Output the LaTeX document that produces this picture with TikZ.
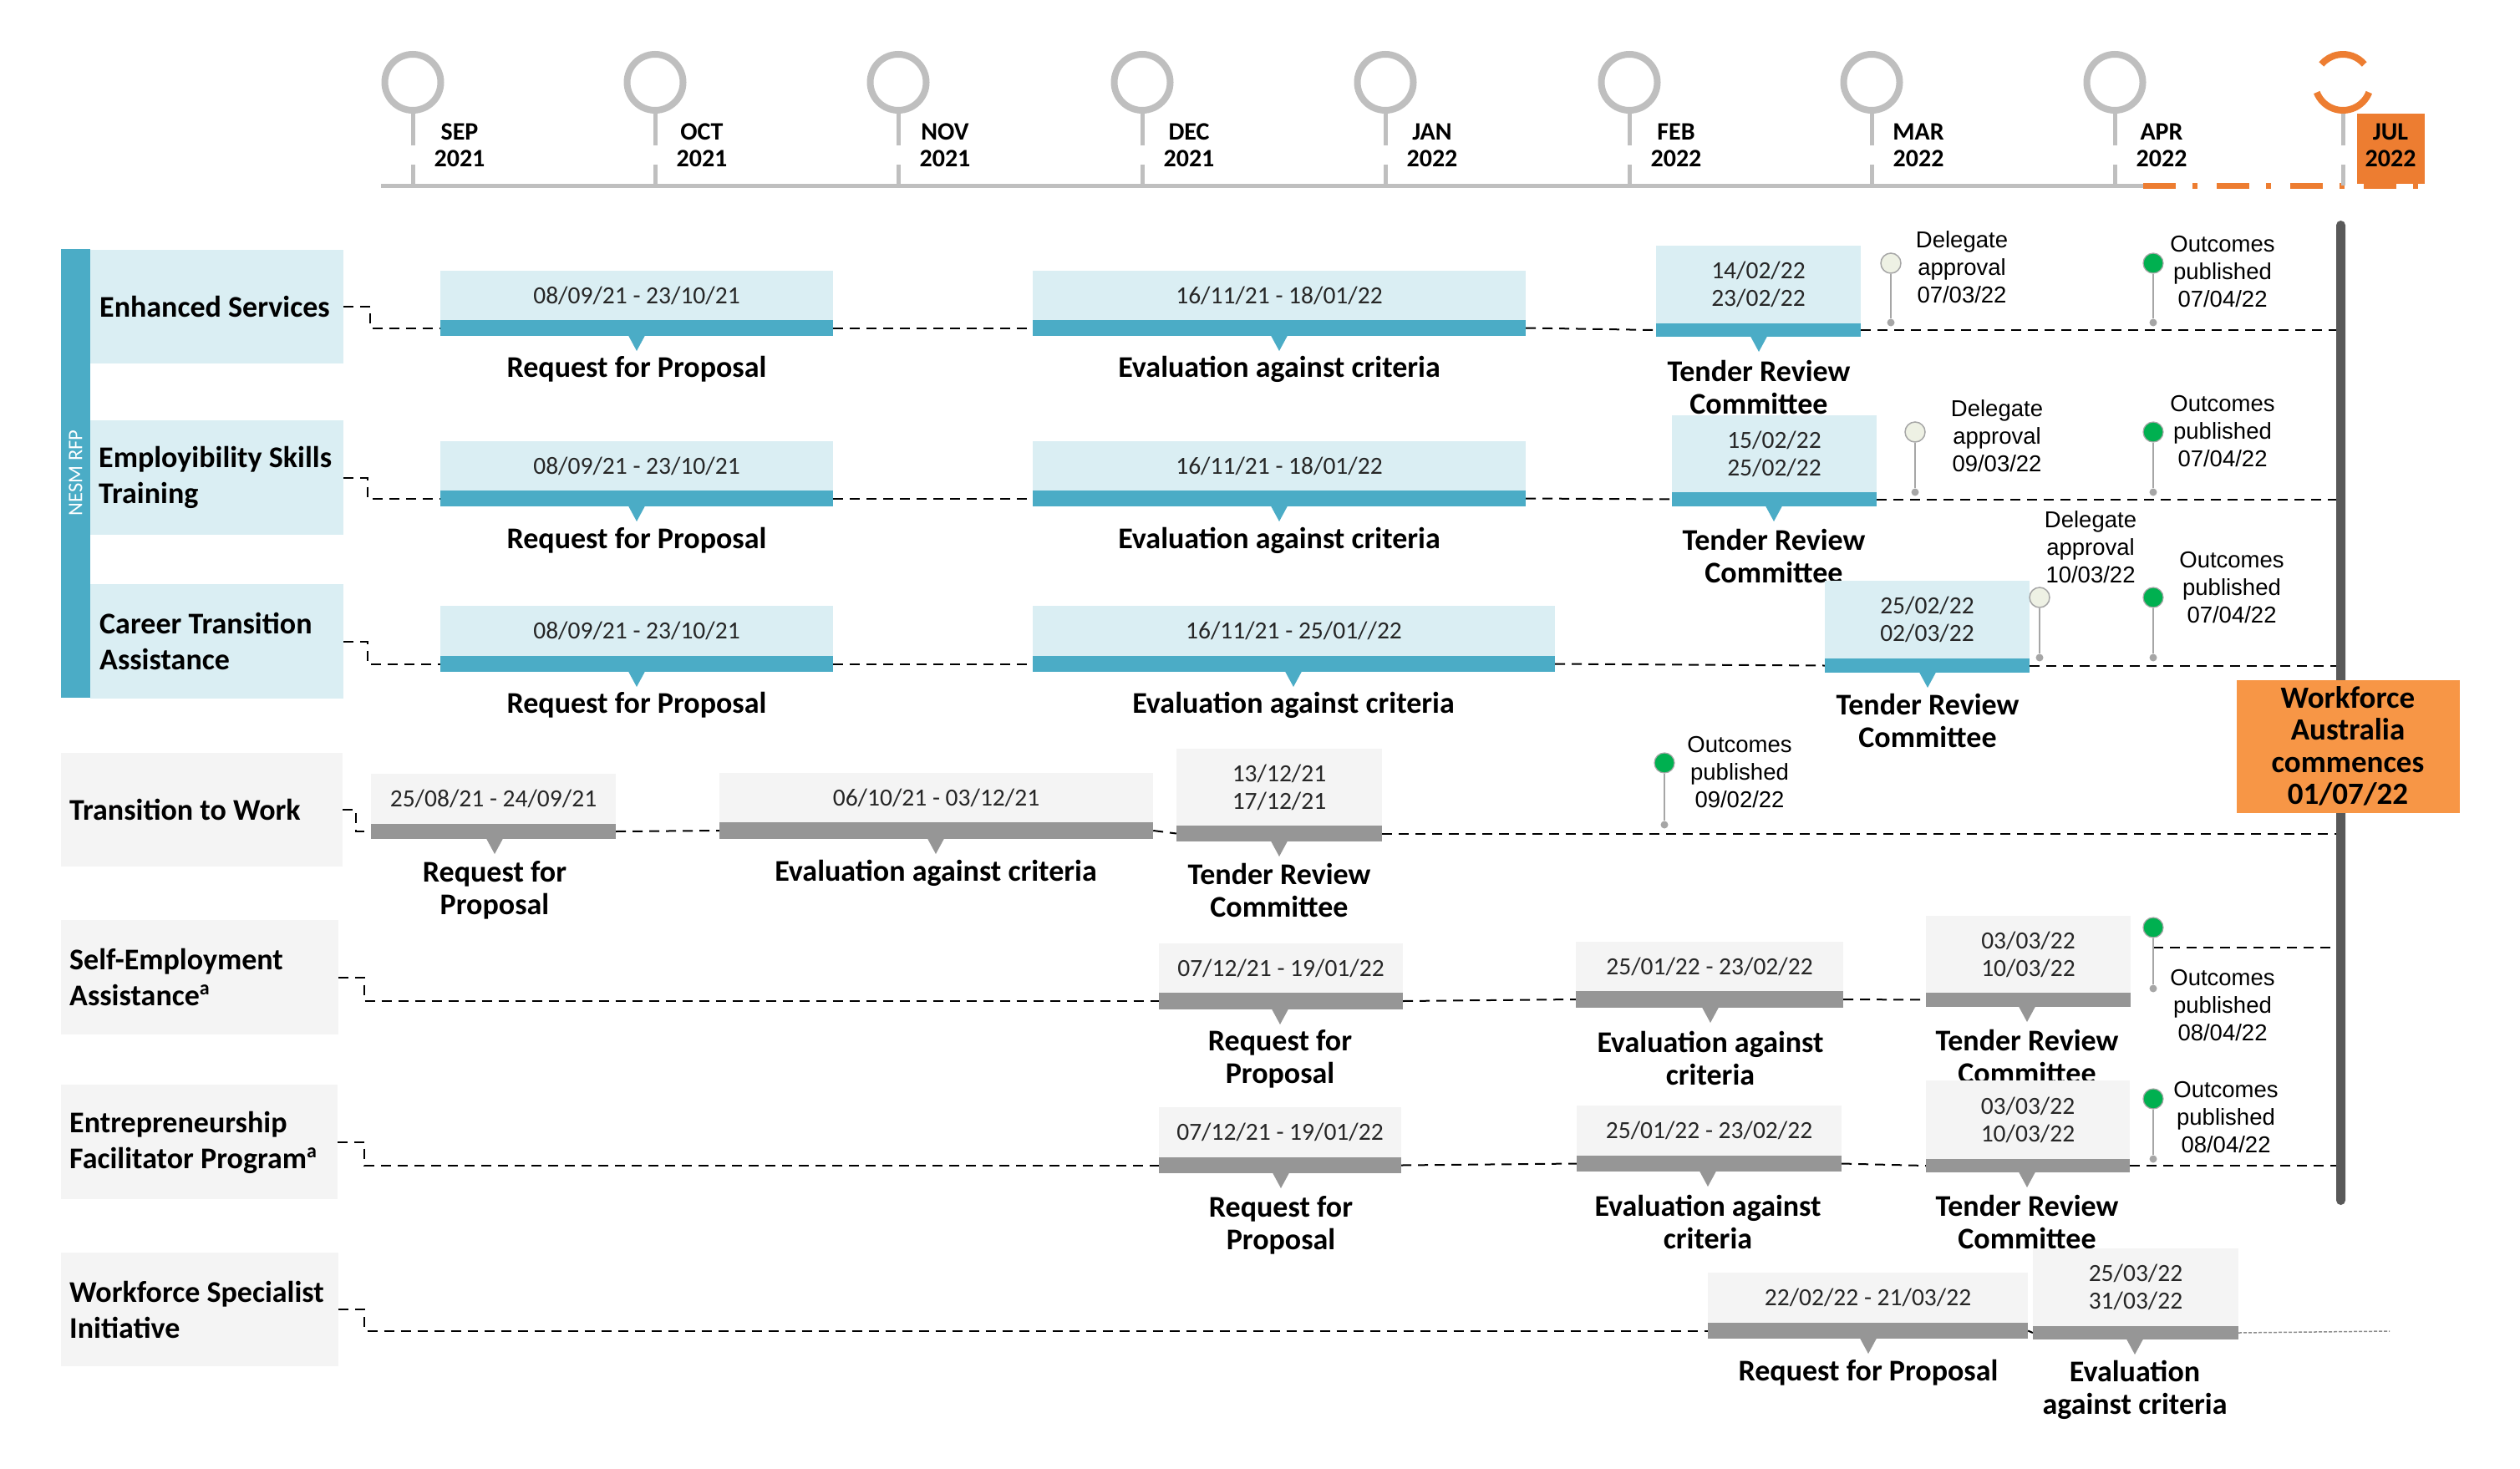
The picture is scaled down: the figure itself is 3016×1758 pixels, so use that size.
\documentclass[tikz,border=0pt]{standalone}
\usepackage{fontspec}
\setmainfont{Carlito}
\newfontfamily\arialf{Liberation Sans}
\usetikzlibrary{fit}
\definecolor{tealD}{HTML}{4BACC6}
\definecolor{tealL}{HTML}{DAEEF3}
\definecolor{grayD}{HTML}{969696}
\definecolor{grayL}{HTML}{F4F4F4}
\definecolor{tlgray}{HTML}{BFBFBF}
\definecolor{orangeD}{HTML}{ED7D31}
\definecolor{orangeL}{HTML}{F79646}
\definecolor{greenP}{HTML}{00B050}
\definecolor{cDeleg}{HTML}{EEF1E4}
\definecolor{stemc}{HTML}{A6A6A6}
\definecolor{vbarc}{HTML}{595959}
\definecolor{datec}{HTML}{262626}
\newcommand{\datefont}{\fontsize{29.5}{33}\selectfont}
\newcommand{\lblfont}{\fontsize{36}{39}\selectfont\bfseries}
\newcommand{\supa}{\raisebox{13pt}{\fontsize{24}{24}\selectfont a}}
% #1 name, #2 scheme, #3 x1, #4 x2, #5 ytop, #6 ymid, #7 ybot, #8 dates, #9 pointer x
\newcommand{\tbar}[9]{%
  \node[fit={(#3,#5) (#4,#6)}, inner sep=0pt, fill=#2L] (#1-d) {};
  \node[datetxt] (#1-t) at (#1-d.center) {#8};
  \node[fit={(#3,#6) (#4,#7)}, inner sep=0pt, fill=#2D] (#1) {};
  \fill[#2D] (#9-10,#7-0.5) -- (#9+10,#7-0.5) -- (#9,#7+18) -- cycle;
}
\newcommand{\tlbl}[4]{\node[tasklbl] (#1) at (#2,#3) {#4};}
\tikzset{
  datetxt/.style={font=\datefont, align=center, inner sep=0pt, text=datec},
  tasklbl/.style={font=\lblfont, align=center, inner sep=0pt, text=black},
  rowtxt/.style={font=\fontsize{36}{43}\selectfont\bfseries, align=left, anchor=west, inner sep=0pt, text=black},
  dashline/.style={draw=black, line width=2pt, dash pattern=on 12pt off 8pt},
  dotline/.style={draw=black!45, line width=1.5pt, dash pattern=on 4pt off 2pt},
  pinG/.style={circle, minimum size=24pt, inner sep=0pt, fill=greenP, draw=stemc, line width=1.2pt},
  pinW/.style={circle, minimum size=24pt, inner sep=0pt, fill=cDeleg, draw=stemc, line width=1.5pt},
  pindot/.style={circle, minimum size=9pt, inner sep=0pt, fill=stemc},
  stemline/.style={draw=stemc, line width=2.5pt},
  pintxt/.style={font=\arialf\fontsize{27.5}{33}\selectfont, align=center, inner sep=0pt, text=black},
  mcirc/.style={circle, draw=tlgray, line width=8pt, minimum size=67pt, inner sep=0pt},
  mstem/.style={draw=tlgray, line width=5pt},
  mlbl/.style={font=\fontsize{30}{32}\selectfont\bfseries, align=center, inner sep=0pt, text=black},
}
\begin{document}
\begin{tikzpicture}[x=1pt, y=-1pt]
\useasboundingbox (0,0) rectangle (3016,1758);
\fill[white] (0,0) rectangle (3016,1758);

% ---------- timeline header ----------
\coordinate (axL) at (456,222);
\coordinate (axM) at (2565,222);
\coordinate (axR) at (2897,222);
\draw[tlgray, line width=5pt] (axL) -- (axM);
\draw[orangeD, line width=7pt, dash pattern=on 39pt off 20pt on 6pt off 23pt] (axM) -- (axR);
\foreach \i/\x/\m/\yr in {1/494/SEP/2021, 2/784/OCT/2021, 3/1075/NOV/2021, 4/1367/DEC/2021, 5/1658/JAN/2022, 6/1950/FEB/2022, 7/2240/MAR/2022, 8/2531/APR/2022}{
  \node[mcirc] (m\i) at (\x,98.5) {};
  \coordinate (t\i) at (\x,222);
  \draw[mstem] (m\i.south) -- ++(0,38);
  \draw[mstem] (t\i) -- ++(0,-25);
  \node[mlbl] (ml\i) at (\x+56,174) {\m\\\yr};
}
\coordinate (jc) at (2804,98.5);
\coordinate (jtop) at (2804,136);
\coordinate (t9) at (2804,222);
\draw[mstem] (jtop) -- ++(0,38);
\draw[mstem] (t9) -- ++(0,-25);
\draw[orangeD, line width=8pt] (jc) ++(40:33.5pt) arc[start angle=40, end angle=140, radius=33.5pt];
\draw[orangeD, line width=8pt] (jc) ++(-21:33.5pt) arc[start angle=-21, end angle=-159, radius=33.5pt];
\node[fit={(2821,136) (2902,220)}, inner sep=0pt, fill=orangeD] (julB) {};
\node[mlbl] (ml9) at (2861,174) {JUL\\2022};

% ---------- vertical bar ----------
\node[fit={(2796,264) (2807,1442)}, inner sep=0pt, fill=vbarc, rounded corners=5.5pt] (vbar) {};

% ---------- row labels ----------
\node[fit={(73,298) (108,835)}, inner sep=0pt, fill=tealD] (nesm) {};
\node[rotate=90, text=white, font=\fontsize{24.5}{26}\selectfont, inner sep=0pt] (nesmT) at (90.5,566) {NESM RFP};
\node[fit={(108,299) (411,435)}, inner sep=0pt, fill=tealL] (esL) {};
\node[rowtxt] (esT) at (119,367) {Enhanced Services};
\node[fit={(108,503) (411,640)}, inner sep=0pt, fill=tealL] (etL) {};
\node[rowtxt] (etT) at (118,571) {Employibility Skills\\Training};
\node[fit={(108,699) (411,836)}, inner sep=0pt, fill=tealL] (ctL) {};
\node[rowtxt] (ctT) at (119,767) {Career Transition\\Assistance};
\node[fit={(73,901) (410,1037)}, inner sep=0pt, fill=grayL] (twL) {};
\node[rowtxt] (twT) at (83,969) {Transition to Work};
\node[fit={(73,1101) (405,1238)}, inner sep=0pt, fill=grayL] (seL) {};
\node[rowtxt] (seT) at (83,1169) {Self-Employment\\Assistance\supa};
\node[fit={(73,1298) (404,1435)}, inner sep=0pt, fill=grayL] (efL) {};
\node[rowtxt] (efT) at (83,1367) {Entrepreneurship\\Facilitator Program\supa};
\node[fit={(73,1499) (405,1635)}, inner sep=0pt, fill=grayL] (wsL) {};
\node[rowtxt] (wsT) at (83,1567) {Workforce Specialist\\Initiative};

% ---------- task bars ----------
\tbar{es1}{teal}{527}{997}{324}{383}{402}{08/09/21 - 23/10/21}{762}
\tlbl{es1l}{762}{442}{Request for Proposal}
\tbar{es2}{teal}{1236}{1826}{324}{383}{402}{16/11/21 - 18/01/22}{1531}
\tlbl{es2l}{1531}{442}{Evaluation against criteria}
\tbar{es3}{teal}{1982}{2227}{294}{387}{403}{14/02/22\\23/02/22}{2105}
\tlbl{es3l}{2105}{463}{Tender Review\\Committee}

\tbar{et1}{teal}{527}{997}{528}{587}{606}{08/09/21 - 23/10/21}{762}
\tlbl{et1l}{762}{647}{Request for Proposal}
\tbar{et2}{teal}{1236}{1826}{528}{587}{606}{16/11/21 - 18/01/22}{1531}
\tlbl{et2l}{1531}{647}{Evaluation against criteria}
\tbar{et3}{teal}{2001}{2246}{497}{589}{606}{15/02/22\\25/02/22}{2123}
\tlbl{et3l}{2123}{665}{Tender Review\\Committee}

\tbar{ct1}{teal}{527}{997}{725}{785}{804}{08/09/21 - 23/10/21}{762}
\tlbl{ct1l}{762}{844}{Request for Proposal}
\tbar{ct2}{teal}{1236}{1861}{725}{785}{804}{16/11/21 - 25/01//22}{1548}
\tlbl{ct2l}{1548}{844}{Evaluation against criteria}
\tbar{ct3}{teal}{2184}{2429}{695}{788}{805}{25/02/22\\02/03/22}{2307}
\tlbl{ct3l}{2307}{862}{Tender Review\\Committee}

\tbar{tw1}{gray}{444}{737}{926}{986}{1004}{25/08/21 - 24/09/21}{592}
\tlbl{tw1l}{592}{1065}{Request for\\Proposal}
\tbar{tw2}{gray}{861}{1380}{925}{984}{1004}{06/10/21 - 03/12/21}{1120}
\tlbl{tw2l}{1120}{1045}{Evaluation against criteria}
\tbar{tw3}{gray}{1408}{1654}{896}{988}{1007}{13/12/21\\17/12/21}{1531}
\tlbl{tw3l}{1531}{1065}{Tender Review\\Committee}

\tbar{se1}{gray}{1387}{1679}{1129}{1188}{1208}{07/12/21 - 19/01/22}{1532}
\tlbl{se1l}{1532}{1267}{Request for\\Proposal}
\tbar{se2}{gray}{1886}{2206}{1127}{1186}{1206}{25/01/22 - 23/02/22}{2047}
\tlbl{se2l}{2047}{1266}{Evaluation against\\criteria}
\tbar{se3}{gray}{2305}{2550}{1096}{1188}{1205}{03/03/22\\10/03/22}{2426}
\tlbl{se3l}{2426}{1264}{Tender Review\\Committee}

\tbar{ef1}{gray}{1387}{1677}{1325}{1385}{1404}{07/12/21 - 19/01/22}{1533}
\tlbl{ef1l}{1533}{1466}{Request for\\Proposal}
\tbar{ef2}{gray}{1887}{2204}{1323}{1383}{1402}{25/01/22 - 23/02/22}{2044}
\tlbl{ef2l}{2044}{1462}{Evaluation against\\criteria}
\tbar{ef3}{gray}{2305}{2549}{1293}{1387}{1403}{03/03/22\\10/03/22}{2426}
\tlbl{ef3l}{2426}{1462}{Tender Review\\Committee}

\tbar{ws1}{gray}{2044}{2427}{1523}{1583}{1602}{22/02/22 - 21/03/22}{2236}
\tlbl{ws1l}{2236}{1643}{Request for Proposal}
\tbar{ws2}{gray}{2433}{2679}{1494}{1587}{1603}{25/03/22\\31/03/22}{2555}
\tlbl{ws2l}{2555}{1663}{Evaluation\\against criteria}

% ---------- dashed connectors ----------
\draw[dashline] (esL.east) -- ++(32,0) |- (es1.west);
\draw[dashline] (etL.east) -- ++(29,0) |- (et1.west);
\draw[dashline] (ctL.east) -- ++(29,0) |- (ct1.west);
\draw[dashline] (twL.east) -- ++(16,0) |- (tw1.west);
\draw[dashline] (seL.east) -- ++(31,0) |- (se1.west);
\draw[dashline] (efL.east) -- ++(32,0) |- (ef1.west);
\draw[dashline] (wsL.east) -- ++(31,0) |- (ws1.west);

\draw[dashline] (es1.east) -- (es2.west);
\draw[dashline] (es2.east) -- (es3.west);
\draw[dashline] (es3.east) -- (es3.east -| vbar.west);
\draw[dashline] (et1.east) -- (et2.west);
\draw[dashline] (et2.east) -- (et3.west);
\draw[dashline] (et3.east) -- (et3.east -| vbar.west);
\draw[dashline] (ct1.east) -- (ct2.west);
\draw[dashline] (ct2.east) -- (ct3.west);
\draw[dashline] (ct3.east) -- (ct3.east -| vbar.west);
\draw[dashline] (tw1.east) -- (tw2.west);
\draw[dashline] (tw2.east) -- (tw3.west);
\draw[dashline] (tw3.east) -- (tw3.east -| vbar.west);
\draw[dashline] (se1.east) -- (se2.west);
\draw[dashline] (se2.east) -- (se3.west);
\coordinate (seJ) at (2577,1134);
\draw[dashline] (seJ) -- (seJ -| vbar.west);
\draw[dashline] (ef1.east) -- (ef2.west);
\draw[dashline] (ef2.east) -- (ef3.west);
\draw[dashline] (ef3.east) -- (ef3.east -| vbar.west);
\draw[dashline] (ws1.east) -- (ws2.west);
\coordinate (wsEnd) at (2860,1593);
\draw[dotline] (ws2.east) -- (wsEnd);

% ---------- pins ----------
\foreach \n/\s/\x/\ya/\yb in {d1/pinW/2263/315/386, d2/pinW/2292/517/589, d3/pinW/2441/715/787,
  o1/pinG/2577/315/386, o2/pinG/2577/517/589, o3/pinG/2577/715/787, o4/pinG/1992/913/987,
  o5/pinG/2577/1110/1183, o6/pinG/2577/1315/1387}{
  \node[pindot] (\n b) at (\x,\yb) {};
  \node[\s] (\n) at (\x,\ya) {};
  \draw[stemline] (\n) -- (\n b);
}
\node[pintxt] (d1t) at (2348,320) {Delegate\\approval\\07/03/22};
\node[pintxt] (d2t) at (2390,522) {Delegate\\approval\\09/03/22};
\node[pintxt] (d3t) at (2502,655) {Delegate\\approval\\10/03/22};
\node[pintxt] (o1t) at (2660,325) {Outcomes\\published\\07/04/22};
\node[pintxt] (o2t) at (2660,516) {Outcomes\\published\\07/04/22};
\node[pintxt] (o3t) at (2671,703) {Outcomes\\published\\07/04/22};
\node[pintxt] (o4t) at (2082,924) {Outcomes\\published\\09/02/22};
\node[pintxt] (o5t) at (2660,1203) {Outcomes\\published\\08/04/22};
\node[pintxt] (o6t) at (2664,1337) {Outcomes\\published\\08/04/22};

% ---------- Workforce Australia ----------
\node[fit={(2677,814) (2944,973)}, inner sep=0pt, fill=orangeL] (wfa) {};
\node[font=\fontsize{37}{38.5}\selectfont\bfseries, align=center, inner sep=0pt, text=black] (wfaT) at (2810,893) {Workforce\\Australia\\commences\\01/07/22};
\end{tikzpicture}
\end{document}
